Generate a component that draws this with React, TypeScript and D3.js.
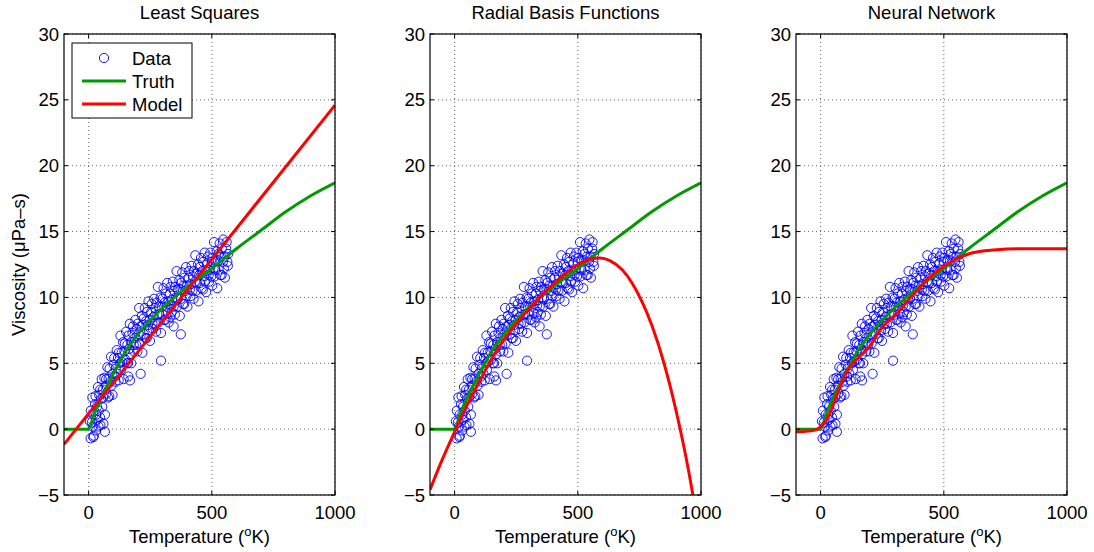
import React from 'react';
import * as d3 from 'd3';

const W = 1094;
const H = 552;

const panelTitles = ['Least Squares', 'Radial Basis Functions', 'Neural Network'];
const xTicks = [0, 500, 1000];
const yTicks = [-5, 0, 5, 10, 15, 20, 25, 30];
const legendLabels = ['Data', 'Truth', 'Model'];

// Observed data (Temperature K, Viscosity µPa-s)
const dataPoints: [number, number][] = [
  [5, 0.6], [8, -0.7], [9, 1.4], [13, 0.5], [15, 2.4], [17, 0.2], [19, -0.6], [20, 1.1], [21, -0.5], [26, 1.9], [28, 2.5],
  [30, -0.1], [31, 1.1], [33, 0.7], [34, 1.7], [38, 3.2], [40, 0.2], [41, 1.4], [43, 2.6], [46, 0.9], [47, 3.0], [48, 0.3],
  [51, 2.3], [53, 3.8], [55, 1.7], [58, 3.0], [59, 2.4], [60, 0.4], [64, 3.9], [66, -0.2], [66, 1.1], [69, 3.3], [71, 3.8],
  [72, 2.7], [76, 4.7], [79, 2.4],
  [81, 3.8], [84, 2.5], [85, 4.6], [89, 3.6], [91, 5.5], [93, 3.3], [96, 4.2], [97, 2.6], [102, 4.9], [104, 5.4],
  [107, 4.0], [109, 3.6], [110, 4.6], [114, 6.0], [117, 4.2], [119, 5.4], [122, 3.7], [123, 5.8], [127, 5.0], [129, 7.1],
  [131, 4.5], [134, 5.8], [135, 5.1], [140, 6.6], [142, 3.8], [145, 5.9], [147, 6.5], [148, 5.3], [152, 7.4], [155, 5.0],
  [157, 6.4], [160, 5.0], [161, 7.1], [161, 4.0], [165, 6.1], [167, 8.0], [168, 3.7], [169, 5.7], [172, 6.6], [173, 5.0],
  [178, 7.3], [180, 7.8], [183, 6.4], [185, 5.9], [186, 6.9], [190, 8.3], [193, 6.4], [195, 7.6], [198, 5.9], [199, 8.0],
  [203, 7.2], [205, 9.2], [207, 6.5], [210, 7.8], [211, 7.1], [211, 4.2], [216, 8.6], [218, 5.8], [221, 7.9], [223, 8.4],
  [224, 7.2], [228, 9.2], [231, 6.9], [233, 8.2], [236, 6.9], [237, 8.9], [241, 7.9], [243, 9.7], [245, 7.5], [248, 8.3],
  [249, 6.7], [254, 8.9], [256, 9.5], [259, 8.0], [261, 7.6], [262, 8.5], [266, 9.9], [269, 8.0], [271, 9.2], [274, 7.4],
  [275, 9.6], [279, 8.7], [281, 10.8], [283, 8.1], [286, 9.3], [287, 8.7], [292, 10.0], [294, 7.3], [294, 5.2], [297, 9.3],
  [299, 9.9], [300, 8.7], [304, 10.7], [307, 8.3], [309, 9.6], [312, 8.3], [313, 10.3], [317, 9.3], [319, 11.1], [321, 8.8],
  [324, 9.7], [325, 8.1], [330, 10.3], [330, 8.5], [332, 10.8], [335, 9.4], [337, 8.9], [338, 9.8], [342, 11.2], [345, 9.3],
  [345, 7.8], [347, 10.5], [350, 8.7], [351, 10.8], [355, 10.0], [357, 12.0], [359, 9.3], [362, 10.6], [363, 9.9], [368, 11.3],
  [370, 8.6], [373, 10.6], [374, 7.2], [375, 11.1], [376, 9.9], [380, 11.9], [383, 9.5], [385, 10.9], [388, 9.5], [389, 11.5],
  [393, 10.5], [395, 12.3], [397, 10.1], [400, 10.9], [401, 9.3], [406, 11.5], [408, 12.0], [411, 10.6], [413, 10.1], [414, 11.0],
  [418, 12.4], [421, 10.5], [423, 11.6], [426, 9.9], [427, 12.0], [431, 11.2], [433, 13.2], [435, 10.5], [438, 11.8], [439, 11.1],
  [444, 12.5], [446, 9.7], [449, 11.7], [451, 12.3], [452, 11.1], [456, 13.0], [459, 10.7], [461, 12.0], [464, 10.6], [465, 12.7],
  [469, 11.6], [471, 13.4], [473, 11.2], [476, 12.0], [477, 10.4], [482, 12.6], [484, 13.1], [487, 11.7], [489, 11.2], [490, 12.1],
  [494, 13.4], [497, 11.6], [499, 12.7], [502, 10.9], [503, 13.0], [507, 12.2], [509, 14.2], [511, 11.6], [514, 12.8], [515, 12.1],
  [520, 13.5], [522, 10.7], [525, 12.8], [527, 13.3], [528, 12.1], [532, 14.1], [535, 11.7], [537, 13.1], [540, 11.7], [541, 13.7],
  [545, 12.7], [547, 14.4], [549, 12.2], [552, 13.1], [553, 11.5], [558, 13.7], [560, 14.2], [563, 12.7], [565, 12.4], [566, 13.3],
];

const truthCurve: [number, number][] = [
  [-100, 0], [0, 0], [20, 1.0], [40, 1.95], [60, 2.7], [100, 4.2], [150, 5.9], [200, 7.2], [300, 9.2],
  [400, 10.8], [500, 12.2], [600, 13.7], [700, 15.1], [800, 16.5], [900, 17.7], [1000, 18.7],
];

const lsModel: [number, number][] = [[-100, -1.15], [1000, 24.6]];

const rbfModel: [number, number][] = [
  [-100, -4.6], [-50, -2.3], [0, -0.2], [50, 1.8], [100, 3.6], [150, 5.3], [200, 6.8], [250, 8.0], [300, 9.1],
  [350, 10.1], [400, 11.0], [450, 11.8], [500, 12.5], [550, 12.9], [590, 13.0], [630, 12.8], [680, 12.1],
  [720, 11.1], [760, 9.7], [800, 7.9], [850, 5.0], [900, 1.3], [950, -3.2], [985, -7.0],
];

const nnModel: [number, number][] = [
  [-100, -0.2], [-50, -0.15], [-20, -0.05], [0, 0.2], [20, 0.6], [40, 1.3], [60, 2.3], [80, 3.3], [100, 4.1],
  [120, 4.75], [140, 5.2], [160, 5.55], [180, 5.9], [200, 6.3], [220, 6.9], [240, 7.5], [280, 8.3], [320, 9.0],
  [360, 9.9], [400, 10.7], [440, 11.5], [480, 12.1], [520, 12.6], [560, 13.0], [600, 13.3], [650, 13.5],
  [700, 13.6], [800, 13.7], [1000, 13.7],
];

const models = [lsModel, rbfModel, nnModel];

const panelLefts = [64, 430, 796];
const panelWidth = 271;
const panelTop = 34;
const panelHeight = 461;

const FONT = '"Liberation Sans", Arial, Helvetica, sans-serif';
const FS = 18.5;
const GREEN = '#009a00';
const RED = '#ff0000';
const BLUE = '#0000ff';

function Panel({ idx }: { idx: number }) {
  const left = panelLefts[idx];
  const x = d3.scaleLinear().domain([-100, 1000]).range([left, left + panelWidth]);
  const y = d3.scaleLinear().domain([-5, 30]).range([panelTop + panelHeight, panelTop]);
  const line = d3
    .line<[number, number]>()
    .x((d) => x(d[0]))
    .y((d) => y(d[1]))
    .curve(d3.curveMonotoneX);
  const clipId = `clip${idx}`;
  const right = left + panelWidth;
  const bottom = panelTop + panelHeight;
  const tl = 4;
  return (
    <g>
      <defs>
        <clipPath id={clipId}>
          <rect x={left} y={panelTop} width={panelWidth} height={panelHeight} />
        </clipPath>
      </defs>
      <rect x={left} y={panelTop} width={panelWidth} height={panelHeight} fill="#fff" />
      {xTicks.map((t) => (
        <line key={'gx' + t} x1={x(t)} x2={x(t)} y1={panelTop} y2={bottom} stroke="#444" strokeWidth={0.8} strokeDasharray="1,3" />
      ))}
      {yTicks.map((t) => (
        <line key={'gy' + t} x1={left} x2={right} y1={y(t)} y2={y(t)} stroke="#444" strokeWidth={0.8} strokeDasharray="1,3" />
      ))}
      <g clipPath={`url(#${clipId})`}>
        {dataPoints.map((d, i) => (
          <circle key={i} cx={x(d[0])} cy={y(d[1])} r={4.6} fill="none" stroke={BLUE} strokeWidth={0.9} />
        ))}
        <path d={line(truthCurve) || ''} fill="none" stroke={GREEN} strokeWidth={3} strokeLinejoin="round" />
        <path d={line(models[idx]) || ''} fill="none" stroke={RED} strokeWidth={3} strokeLinejoin="round" />
      </g>
      {xTicks.map((t) => (
        <g key={'tx' + t}>
          <line x1={x(t)} x2={x(t)} y1={bottom} y2={bottom - tl} stroke="#000" />
          <line x1={x(t)} x2={x(t)} y1={panelTop} y2={panelTop + tl} stroke="#000" />
          <text x={x(t)} y={519} textAnchor="middle" fontSize={FS} fontFamily={FONT}>
            {t}
          </text>
        </g>
      ))}
      {yTicks.map((t) => (
        <g key={'ty' + t}>
          <line x1={left} x2={left + tl} y1={y(t)} y2={y(t)} stroke="#000" />
          <line x1={right} x2={right - tl} y1={y(t)} y2={y(t)} stroke="#000" />
          <text x={left - 5} y={y(t) + 6.5} textAnchor="end" fontSize={FS} fontFamily={FONT}>
            {t < 0 ? '\u2212' + Math.abs(t) : t}
          </text>
        </g>
      ))}
      <rect x={left} y={panelTop} width={panelWidth} height={panelHeight} fill="none" stroke="#000" strokeWidth={1.2} />
      <text x={left + panelWidth / 2} y={19} textAnchor="middle" fontSize={FS} fontFamily={FONT}>
        {panelTitles[idx]}
      </text>
      <text x={left + panelWidth / 2} y={543} textAnchor="middle" fontSize={FS} fontFamily={FONT}>
        Temperature (<tspan dy={-7} fontSize={13}>o</tspan>
        <tspan dy={7}>K)</tspan>
      </text>
      {idx === 0 && (
        <text
          transform={`translate(25, ${panelTop + panelHeight / 2}) rotate(-90)`}
          textAnchor="middle"
          fontSize={FS}
          fontFamily={FONT}
        >
          Viscosity (μPa–s)
        </text>
      )}
      {idx === 0 && (
        <g>
          <rect x={72} y={43} width={120} height={75} fill="#fff" stroke="#000" strokeWidth={1} />
          <circle cx={104} cy={58} r={4.6} fill="none" stroke={BLUE} strokeWidth={0.9} />
          <line x1={82} x2={126} y1={81} y2={81} stroke={GREEN} strokeWidth={3} />
          <line x1={82} x2={126} y1={104} y2={104} stroke={RED} strokeWidth={3} />
          {legendLabels.map((l, i) => (
            <text key={l} x={132} y={64.5 + i * 23} fontSize={FS} fontFamily={FONT}>
              {l}
            </text>
          ))}
        </g>
      )}
    </g>
  );
}

export default function App() {
  return (
    <svg width={W} height={H} style={{ position: 'absolute', left: 0, top: 0, background: '#fff' }}>
      <rect x={0} y={0} width={W} height={H} fill="#fff" />
      {[0, 1, 2].map((i) => (
        <Panel key={i} idx={i} />
      ))}
    </svg>
  );
}
